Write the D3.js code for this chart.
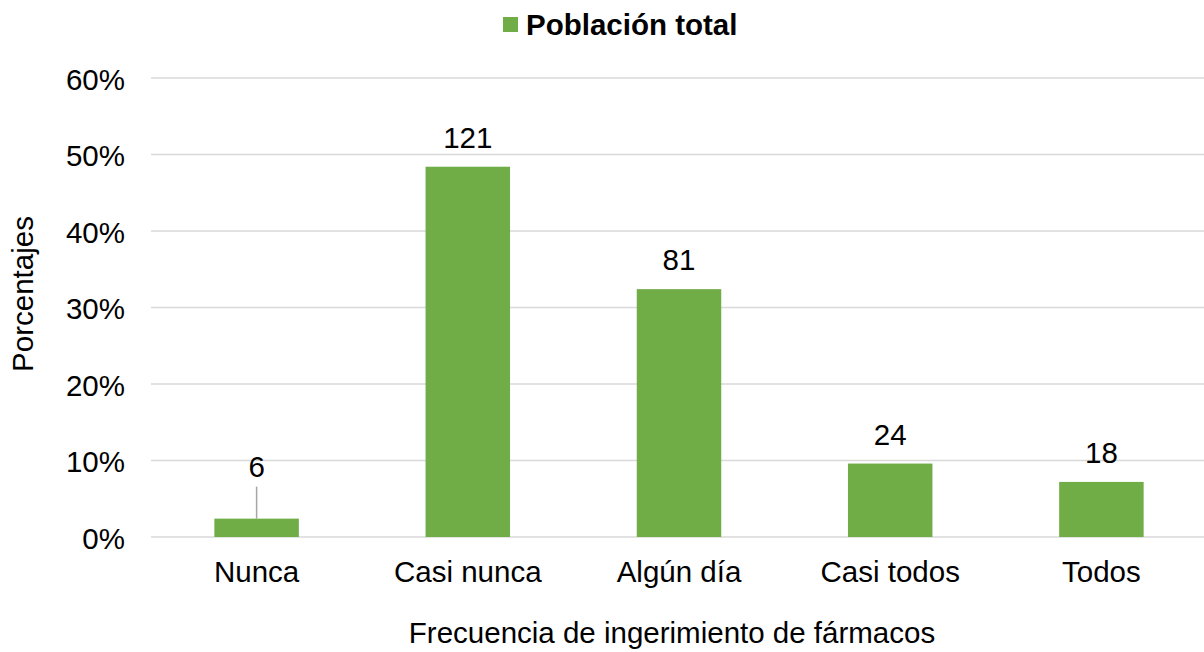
<!DOCTYPE html>
<html><head><meta charset="utf-8">
<script src="https://cdn.jsdelivr.net/npm/d3@7"></script>
<style>body{margin:0;background:#fff;}svg{display:block;font-family:"Liberation Sans",Arial,sans-serif;}</style>
</head><body>
<svg id="c" width="1204" height="652"></svg>
<script>
const categories = ["Nunca","Casi nunca","Algún día","Casi todos","Todos"];
const counts = [6,121,81,24,18];
const percents = [0.024,0.484,0.324,0.096,0.072];
const yTicks = [0,0.1,0.2,0.3,0.4,0.5,0.6];
const seriesName = "Población total";
const xTitle = "Frecuencia de ingerimiento de fármacos";
const yTitle = "Porcentajes";

const FS = 29.5;
const svg = d3.select("#c");
const green = "#70AD47";
const x = d3.scaleBand().domain(categories).range([151,1207]).paddingInner(0.6).paddingOuter(0.3);
const y = d3.scaleLinear().domain([0,0.6]).range([537,78]);

// gridlines
svg.append("g").selectAll("line").data(yTicks).join("line")
  .attr("x1",151).attr("x2",1204).attr("y1",d=>y(d)).attr("y2",d=>y(d))
  .attr("stroke","#D9D9D9").attr("stroke-width",1.5);

// y axis labels
const yAxis = d3.axisLeft(y).tickValues(yTicks).tickFormat(d3.format(".0%")).tickSize(0).tickPadding(0);
const ya = svg.append("g").attr("transform","translate(125,0)").call(yAxis);
ya.select(".domain").remove();
ya.selectAll("text").attr("font-size",FS).attr("fill","#000").attr("font-family","Liberation Sans, Arial, sans-serif").attr("dy","0.38em");

// bars
const data = categories.map((c,i)=>({c,v:percents[i],n:counts[i]}));
svg.append("g").selectAll("rect").data(data).join("rect")
  .attr("x",d=>x(d.c)).attr("width",x.bandwidth())
  .attr("y",d=>y(d.v)).attr("height",d=>y(0)-y(d.v)).attr("fill",green);

// value labels
data.forEach((d,i)=>{
  const cx = x(d.c)+x.bandwidth()/2;
  let by = y(d.v)-19;
  if (i===0) {
    by = y(d.v)-42;
    svg.append("line").attr("x1",cx).attr("x2",cx).attr("y1",by+10).attr("y2",y(d.v))
      .attr("stroke","#A6A6A6").attr("stroke-width",1.5);
  }
  svg.append("text").attr("x",cx).attr("y",by).attr("text-anchor","middle")
    .attr("font-size",FS).attr("fill","#000").text(d.n);
});

// x axis labels
const xAxis = d3.axisBottom(x).tickSize(0).tickPadding(0);
const xa = svg.append("g").attr("transform","translate(0,582)").call(xAxis);
xa.select(".domain").remove();
xa.selectAll("text").attr("font-size",FS).attr("fill","#000").attr("font-family","Liberation Sans, Arial, sans-serif").attr("dy","0");

// axis titles
svg.append("text").attr("x",672).attr("y",643).attr("text-anchor","middle")
  .attr("font-size",FS).attr("fill","#000").text(xTitle);
svg.append("text").attr("transform","translate(33,294) rotate(-90)").attr("text-anchor","middle")
  .attr("font-size",FS).attr("fill","#000").text(yTitle);

// legend
svg.append("rect").attr("x",503).attr("y",17).attr("width",15).attr("height",15).attr("fill",green);
svg.append("text").attr("x",526).attr("y",35).attr("font-size",FS).attr("font-weight","bold").attr("fill","#000").text(seriesName);
</script>
</body></html>
